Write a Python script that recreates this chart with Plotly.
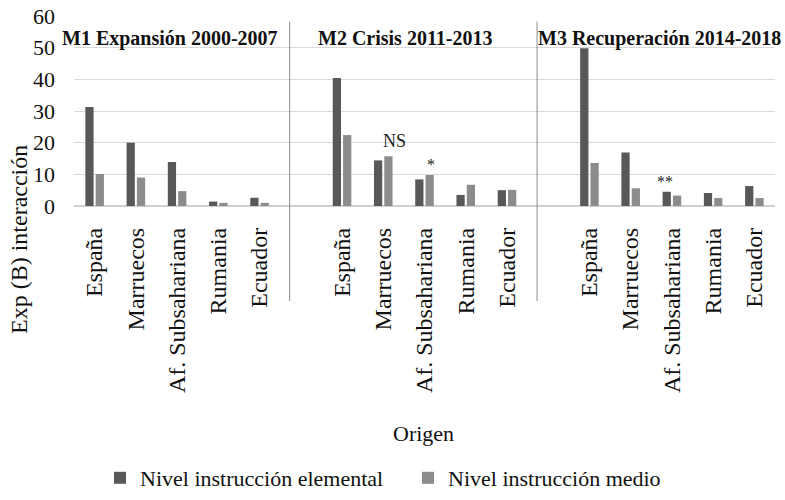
import plotly.graph_objs as go

# ---------------- DATA ----------------
periods = ["M1 Expansión 2000-2007", "M2 Crisis 2011-2013", "M3 Recuperación 2014-2018"]
countries = ["España", "Marruecos", "Af. Subsahariana", "Rumania", "Ecuador"]

elemental = [
    [31.3, 20.0, 13.9, 1.4, 2.6],   # M1
    [40.4, 14.4, 8.4, 3.5, 5.0],    # M2
    [49.8, 16.9, 4.5, 4.1, 6.3],    # M3
]
medio = [
    [10.1, 9.0, 4.7, 1.0, 1.0],
    [22.4, 15.7, 9.8, 6.7, 5.1],
    [13.6, 5.6, 3.3, 2.5, 2.5],
]

# significance marks: (period, country, series, text)
marks = [(1, 1, "medio", "NS"), (1, 2, "medio", "*"), (2, 2, "elemental", "**")]
mark_dx = [0.28, 0.15, -0.16]

DARK = "#585858"
LIGHT = "#8c8c8c"
SERIF = "Liberation Serif"

W, H = 785, 500
ML, MR, MT, MB = 74, 10, 16, 294

# slot position of each category: 5 countries per period + one empty slot
xpos, ticktext, y_el, y_me = [], [], [], []
for g in range(len(periods)):
    for i, c in enumerate(countries):
        xpos.append(g * 6 + i)
        ticktext.append(c)
        y_el.append(elemental[g][i])
        y_me.append(medio[g][i])

fig = go.Figure()

fig.add_trace(go.Bar(x=xpos, y=y_el, name="Nivel instrucción elemental",
                     marker=dict(color=DARK, line=dict(width=0))))
fig.add_trace(go.Bar(x=xpos, y=y_me, name="Nivel instrucción medio",
                     marker=dict(color=LIGHT, line=dict(width=0))))

# vertical dividers between periods
for g in range(1, len(periods)):
    fig.add_shape(type="line", xref="x", yref="y domain",
                  x0=g * 6 - 1.27, x1=g * 6 - 1.27, y0=-0.5, y1=0.97,
                  line=dict(color="#8a8a8a", width=1))

# period titles
title_x = [1.82, 7.52, 13.71]
for g, p in enumerate(periods):
    fig.add_annotation(x=title_x[g], y=53.0, xref="x", yref="y", text="<b>%s</b>" % p,
                       showarrow=False, xanchor="center", yanchor="middle",
                       font=dict(family=SERIF, size=20, color="#111111"))

# significance labels
for (g, i, s, t), dx in zip(marks, mark_dx):
    val = elemental[g][i] if s == "elemental" else medio[g][i]
    fig.add_annotation(x=g * 6 + i + dx, y=val, xref="x", yref="y", text=t,
                       showarrow=False, xanchor="center", yanchor="bottom",
                       yshift=3 if t == "NS" else 0,
                       font=dict(family=SERIF, size=18 if t == "NS" else 16, color="#222222"))


def px(x, y):
    # page pixel position -> paper coords
    return (x - ML) / (W - ML - MR), (H - MB - y) / (H - MT - MB)


ax, ay = px(19, 240)
fig.add_annotation(x=ax, y=ay, xref="paper", yref="paper", text="Exp (B) interacción",
                   showarrow=False, textangle=-90, xanchor="center", yanchor="middle",
                   font=dict(family=SERIF, size=24, color="#111111"))
ax, ay = px(423, 433)
fig.add_annotation(x=ax, y=ay, xref="paper", yref="paper", text="Origen",
                   showarrow=False, xanchor="center", yanchor="middle",
                   font=dict(family=SERIF, size=22, color="#111111"))
lx, ly = px(100, 478)

fig.update_layout(
    width=W,
    height=H,
    barmode="group",
    bargap=0.5,
    bargroupgap=0.2,
    plot_bgcolor="white",
    paper_bgcolor="white",
    font=dict(family=SERIF, color="#111111"),
    showlegend=True,
    legend=dict(
        orientation="h",
        yanchor="middle",
        y=ly,
        xanchor="left",
        x=lx,
        font=dict(family=SERIF, size=22, color="#111111"),
        itemwidth=30,
        entrywidth=263,
        entrywidthmode="pixels",
        traceorder="normal"
    ),
    xaxis=dict(
        tickmode="array",
        tickvals=xpos,
        ticktext=ticktext,
        tickangle=-90,
        range=[-0.5, 16.5],
        showgrid=False,
        zeroline=False,
        showline=False,
        ticks="",
        automargin=False,
        ticklabelstandoff=16,
        tickfont=dict(family=SERIF, size=24, color="#111111")
    ),
    yaxis=dict(
        range=[0, 60],
        dtick=10,
        showgrid=True,
        gridcolor="#d9d9d9",
        gridwidth=1,
        zeroline=True,
        zerolinecolor="#d0d0d0",
        showline=False,
        ticks="",
        automargin=False,
        tickfont=dict(family=SERIF, size=22, color="#111111"),
        ticklabelstandoff=18
    ),
    margin=dict(l=ML, r=MR, t=MT, b=MB, autoexpand=False)
)

# drop the default 8px page margin so the figure fills the window exactly
fig.write_html("out.html", config={"displayModeBar": False},
               post_script="document.body.style.margin='0';")
